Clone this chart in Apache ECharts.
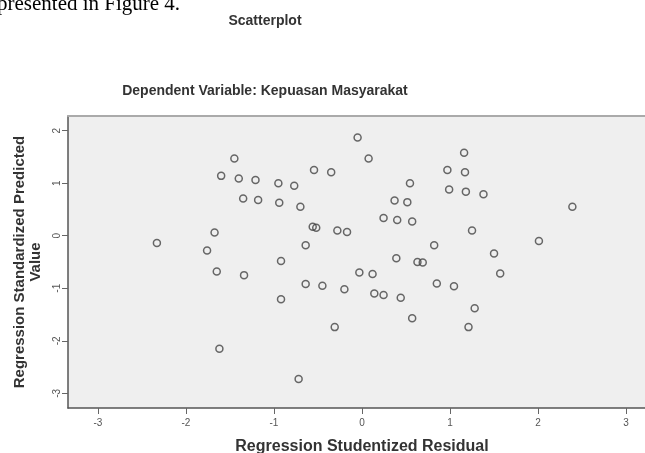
<!DOCTYPE html>
<html>
<head>
<meta charset="utf-8">
<script src="https://cdn.jsdelivr.net/npm/echarts@6/dist/echarts.min.js"></script>
<style>html,body{margin:0;padding:0;background:#fff;}#c{width:645px;height:453px;}</style>
</head>
<body>
<div id="c"></div>
<script>
var xValues = [-2.33,-1.76,-1.675,-1.65,-1.62,-1.60,-1.45,-1.40,-1.35,-1.34,-1.21,-1.18,-0.95,-0.94,-0.92,-0.92,-0.77,-0.72,-0.70,-0.64,-0.64,-0.56,-0.52,-0.545,-0.45,-0.35,-0.31,-0.28,-0.20,-0.17,-0.05,-0.03,0.075,0.12,0.14,0.245,0.245,0.37,0.39,0.40,0.44,0.515,0.545,0.57,0.57,0.63,0.69,0.82,0.85,0.97,0.99,1.045,1.16,1.17,1.18,1.21,1.25,1.28,1.38,1.50,1.57,2.01,2.39];
var yValues = [-0.14,-0.28,0.06,-0.68,-2.15,1.14,1.47,1.09,0.71,-0.75,1.06,0.68,1.00,0.63,-0.48,-1.21,0.95,-2.73,0.55,-0.18,-0.92,0.17,0.15,1.25,-0.95,1.21,-1.74,0.10,-1.02,0.07,1.87,-0.70,1.47,-0.73,-1.10,0.34,-1.13,0.67,-0.43,0.30,-1.18,0.64,1.00,0.27,-1.57,-0.50,-0.51,-0.18,-0.91,1.25,0.88,-0.96,1.58,1.21,0.84,-1.74,0.10,-1.38,0.79,-0.34,-0.72,-0.10,0.55];
var xTicks = [-3,-2,-1,0,1,2,3];
var yTicks = [-3,-2,-1,0,1,2];
var chartTitle = 'Scatterplot';
var chartSubtitle = 'Dependent Variable: Kepuasan Masyarakat';
var xName = 'Regression Studentized Residual';
var yName = 'Regression Standardized Predicted\nValue';
var topText = 'presented in Figure 4.';

var points = xValues.map(function(x, i){ return [x, yValues[i]]; });
var chart = echarts.init(document.getElementById('c'), null, {renderer:'canvas'});
var font = 'Liberation Sans, Arial, sans-serif';
chart.setOption({
  animation: false,
  backgroundColor: '#ffffff',
  graphic: [
    {type:'text', x:-3, y:-6, style:{text: topText, font:'21px "Liberation Serif", "Times New Roman", serif', fill:'#000'}},
    {type:'text', x:265, y:14, style:{text: chartTitle, font:'bold 14px ' + font, fill:'#333', textAlign:'center'}},
    {type:'text', x:265, y:84, style:{text: chartSubtitle, font:'bold 14px ' + font, fill:'#333', textAlign:'center'}}
  ],
  grid: {left:68, top:116, width:588, height:292, show:true, backgroundColor:'#efefef', borderWidth:0, outerBoundsMode:'none', containLabel:false},
  xAxis: [{
    type:'value', min:-3.34, max:3.34, position:'bottom',
    name: xName, nameLocation:'middle', nameGap:31,
    nameTextStyle:{fontFamily:font, fontWeight:'bold', fontSize:16, color:'#333'},
    axisLine:{show:true, onZero:false, lineStyle:{color:'#555', width:1.5}},
    axisTick:{show:true, length:6, customValues:xTicks, lineStyle:{color:'#666'}},
    axisLabel:{customValues:xTicks, fontSize:10, color:'#555', fontFamily:font, margin:10},
    splitLine:{show:false}
  },{
    type:'value', min:-3.34, max:3.34, position:'top',
    axisLine:{show:true, onZero:false, lineStyle:{color:'#aaa', width:2}},
    axisTick:{show:false}, axisLabel:{show:false}, splitLine:{show:false}
  }],
  yAxis: {
    type:'value', min:-3.28, max:2.28,
    name: yName, nameLocation:'middle', nameGap:24, nameRotate:90,
    nameTextStyle:{fontFamily:font, fontWeight:'bold', fontSize:15, color:'#333', lineHeight:16},
    axisLine:{show:true, onZero:false, lineStyle:{color:'#555', width:1.5}},
    axisTick:{show:true, length:6, customValues:yTicks, lineStyle:{color:'#666'}},
    axisLabel:{customValues:yTicks, fontSize:10, color:'#555', fontFamily:font, rotate:90, margin:6},
    splitLine:{show:false}
  },
  series: [{
    type:'scatter', data: points, symbol:'circle', symbolSize:7,
    itemStyle:{color:'rgba(0,0,0,0)', borderColor:'#444', borderWidth:1.5}
  }]
});
</script>
</body>
</html>
